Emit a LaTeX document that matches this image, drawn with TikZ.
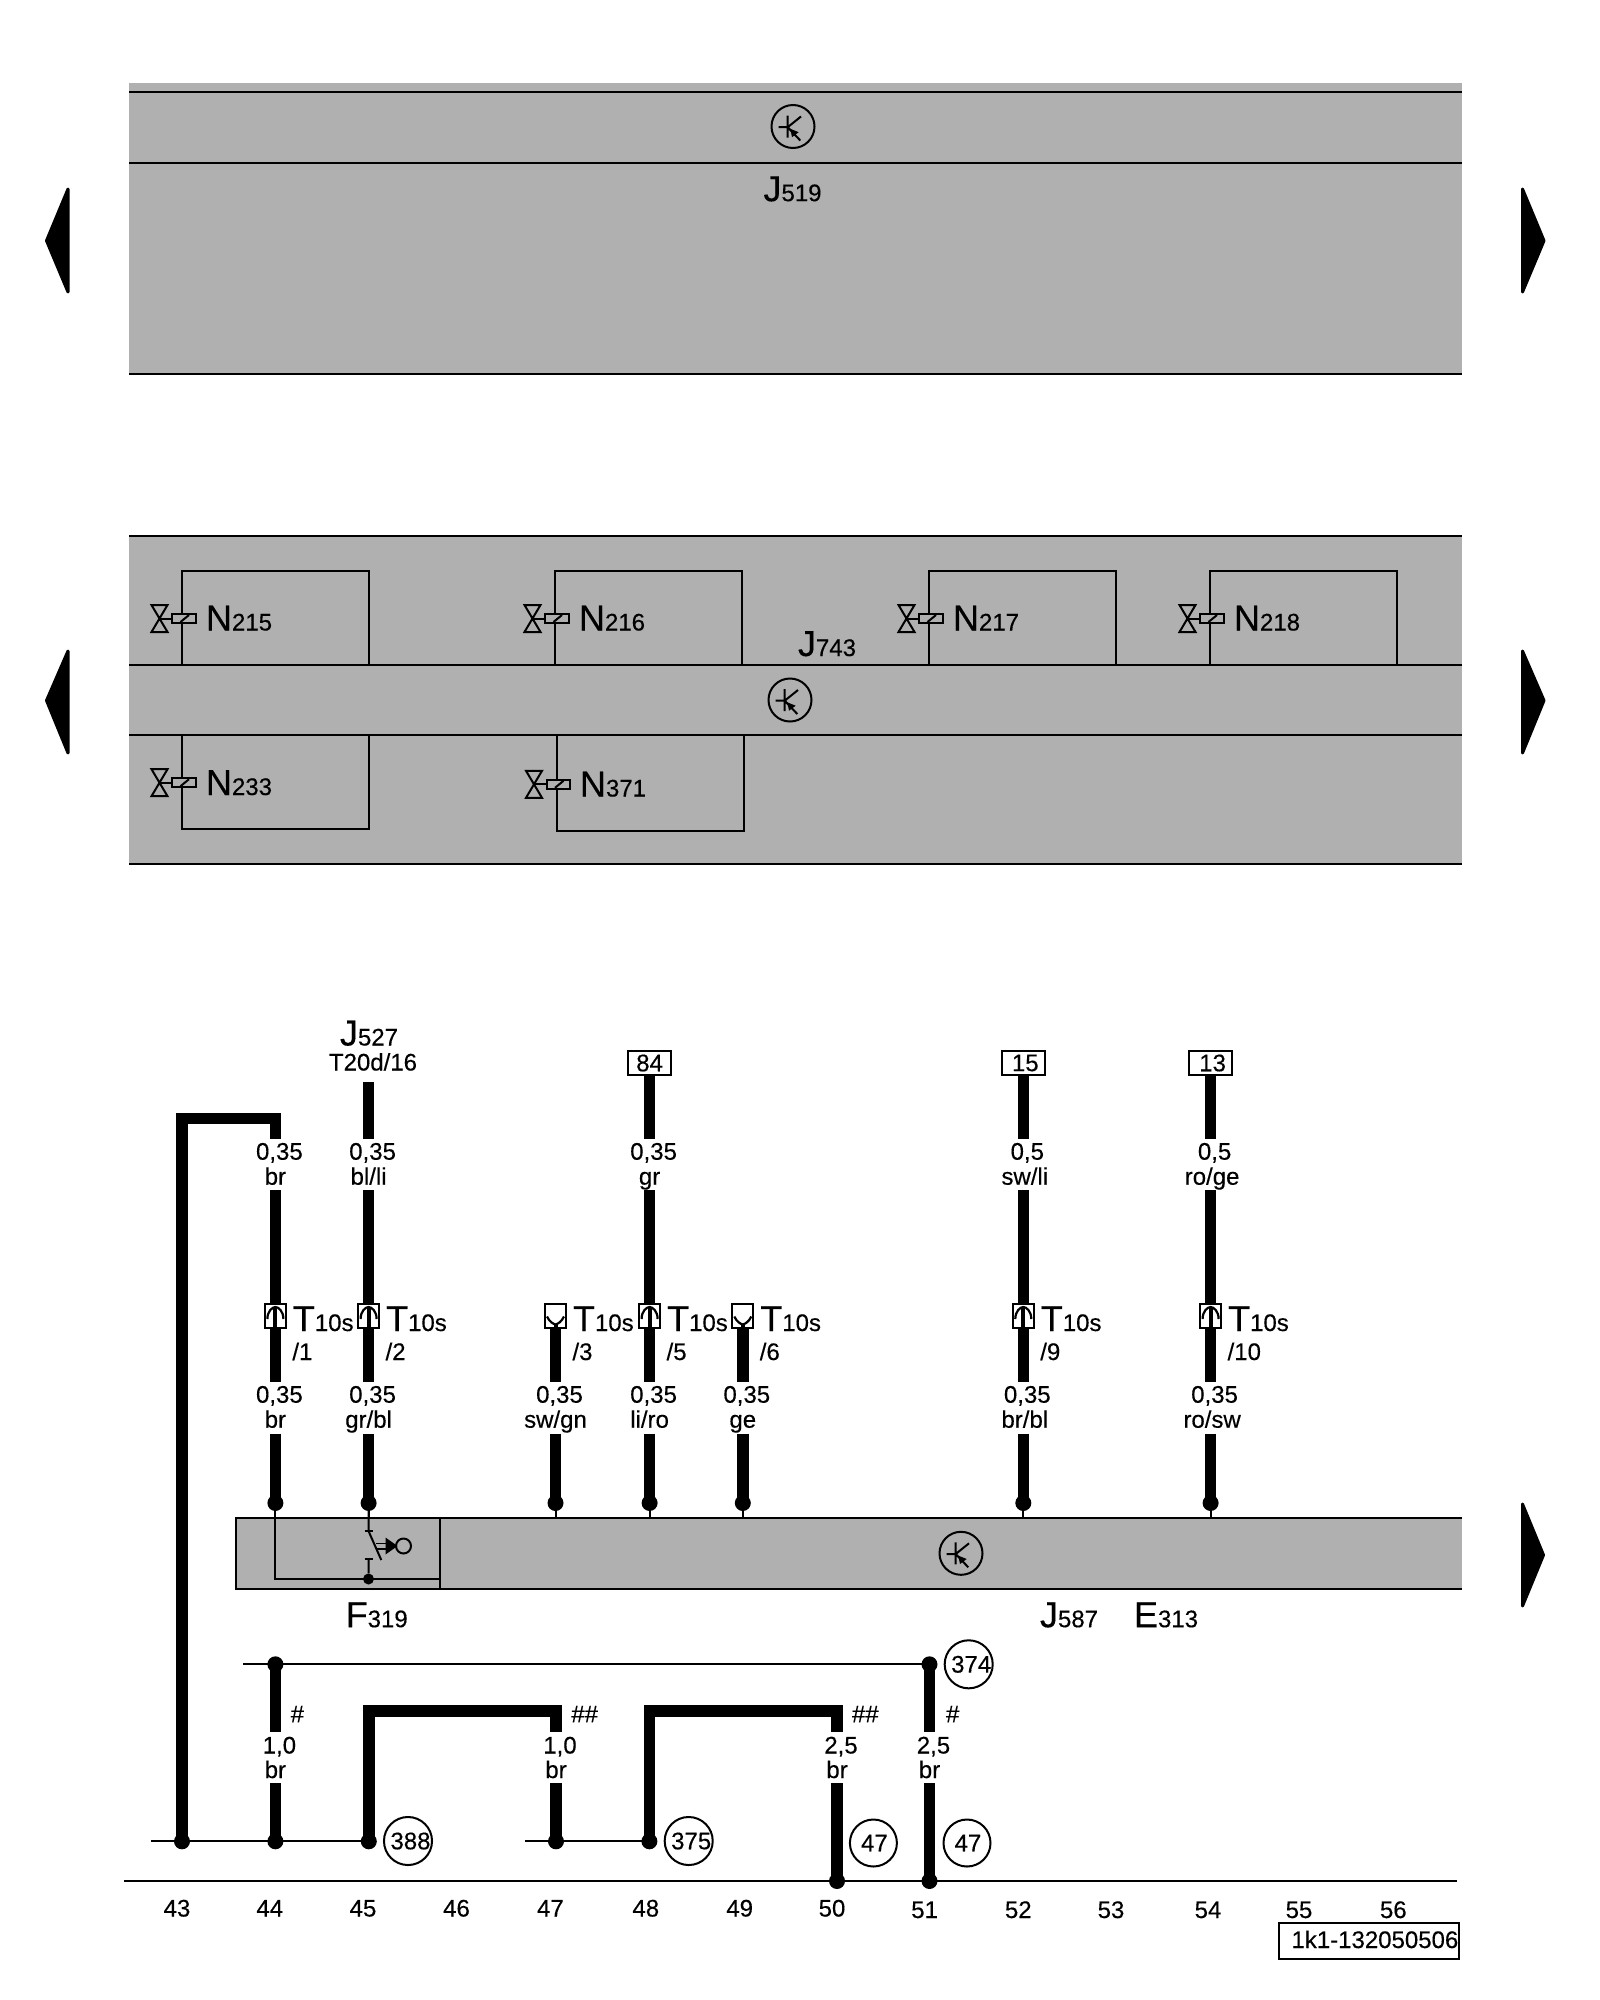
\documentclass[tikz,border=0pt]{standalone}
\usepackage{fontspec}
\setmainfont{Liberation Sans}[FakeBold=0.3]
\definecolor{panel}{RGB}{176,176,176}
\newcommand\Bg[2]{{\fontsize{36}{36}\selectfont #1}{\fontsize{24}{24}\selectfont #2}}
\tikzset{
  wire/.style={line width=11.5pt,line cap=butt,line join=miter,black},
  hair/.style={line width=2pt,black},
  lbl/.style={inner sep=0pt,outer sep=0pt,anchor=base,font=\fontsize{24}{24}\selectfont},
  lblw/.style={lbl,anchor=base west},
  dotn/.style={circle,fill=black,inner sep=0pt,minimum size=16pt,outer sep=0pt},
  pinbox/.style={rectangle,draw=black,line width=2pt,fill=white,minimum width=21pt,minimum height=24pt,inner sep=0pt,outer sep=0pt},
  refc/.style={circle,draw=black,line width=2pt,minimum size=47pt,inner sep=0pt,font=\fontsize{24}{24}\selectfont},
  termbox/.style={rectangle,draw=black,line width=2pt,fill=white,minimum width=43pt,minimum height=24pt,inner sep=0pt,outer sep=0pt,font=\fontsize{24}{24}\selectfont},
  pointer/.style={fill=black,draw=black,line width=3pt,line join=round},
  transistor/.pic={
    \draw[line width=2pt] (0,0) circle[radius=21.5];
    \draw[line width=2pt] (-5.3,-11)--(-5.3,11) (-14.3,0.7)--(-5.3,0.7) (-5.3,0.7)--(8,-10) (-5.3,0.7)--(7.3,14);
    \fill (-2.7,2.3)--(-1,10.7)--(5.7,5.7)--cycle;
  },
  valve/.pic={
    \draw[line width=2pt,line join=miter] (-8,-13.5)--(8,-13.5)--(-8,13.5)--(8,13.5)--cycle;
    \draw[line width=2pt] (0,0)--(12,0);
    \draw[line width=2pt,fill=panel] (12.5,-4.5) rectangle (36,4.5);
    \draw[line width=2pt] (21,3.5)--(29.5,-3.5);
  },
  pinmale/.pic={
    \draw[line width=2.2pt] (-8,3) .. controls (-8,-5) and (-3,-9) .. (0,-9) .. controls (3,-9) and (8,-5) .. (8,3);
    \draw[line width=4pt] (0,-8)--(0,11);
  },
  pinfemale/.pic={
    \draw[line width=2.2pt] (-8.5,0.5) .. controls (-6,6) and (-2,8) .. (0,8.5) .. controls (2,8) and (6,6) .. (8.5,0.5);
    \draw[line width=4pt] (0,8)--(0,12);
  },
}
\begin{document}
\begin{tikzpicture}[x=1pt,y=-1pt]
\useasboundingbox (0,0) rectangle (1600,2000);
\fill[white] (0,0) rectangle (1600,2000);

% --- top panel J519
\fill[panel] (129,83) rectangle (1462.3,374);
\coordinate (a1) at (129,92.3); \coordinate (a2) at (1462.3,92.3);
\coordinate (b1) at (129,163.3); \coordinate (b2) at (1462.3,163.3);
\coordinate (c1) at (129,374); \coordinate (c2) at (1462.3,374);
\draw[hair] (a1)--(a2) (b1)--(b2) (c1)--(c2);
\pic at (793,126.5) {transistor};
\node[lblw] (j519) at (763.5,201.2) {\Bg{J}{519}};

% --- middle panel J743
\fill[panel] (129,536) rectangle (1462.3,864.3);
\coordinate (d1) at (129,536); \coordinate (d2) at (1462.3,536);
\coordinate (e1) at (129,665.3); \coordinate (e2) at (1462.3,665.3);
\coordinate (f1) at (129,735.3); \coordinate (f2) at (1462.3,735.3);
\coordinate (g1) at (129,864.3); \coordinate (g2) at (1462.3,864.3);
\draw[hair] (d1)--(d2) (e1)--(e2) (f1)--(f2) (g1)--(g2);
\pic at (790,700) {transistor};
\node[lblw] (j743) at (798,656) {\Bg{J}{743}};

\foreach \x/\n in {182/215,555/216,929/217,1210/218}{
  \draw[hair,line join=miter] (\x,665.3)--(\x,571)--(\x+187,571)--(\x+187,665.3);
  \pic at (\x-22.5,618.5) {valve};
  \node[lblw] (n\n) at (\x+24,630.5) {\Bg{N}{\n}};
}
\draw[hair,line join=miter] (182,735.3)--(182,829.3)--(369,829.3)--(369,735.3);
\pic at (159.5,782.7) {valve};
\node[lblw] (n233) at (206,795) {\Bg{N}{233}};
\draw[hair,line join=miter] (556.6,735.3)--(556.6,831.3)--(743.6,831.3)--(743.6,735.3);
\pic at (534,784.3) {valve};
\node[lblw] (n371) at (580,796.5) {\Bg{N}{371}};

% --- side pointers
\foreach \ya/\yb/\yc in {189/240.7/292, 651/700.5/753}{
  \draw[pointer] (68,\ya)--(46.5,\yb)--(68,\yc)--cycle;
  \draw[pointer] (1522.5,\ya)--(1544,\yb)--(1522.5,\yc)--cycle;
}
\draw[pointer] (1522.5,1504)--(1543.5,1555)--(1522.5,1606)--cycle;

% --- lower panel
\fill[panel] (236,1518.3) rectangle (1462.3,1589.3);
\coordinate (h1) at (1462.3,1518.3); \coordinate (h2) at (236,1518.3);
\coordinate (h3) at (236,1589.3); \coordinate (h4) at (1462.3,1589.3);
\draw[hair,line join=miter] (h1)--(h2)--(h3)--(h4);
\coordinate (h5) at (440.3,1518.3); \coordinate (h6) at (440.3,1589.3);
\draw[hair] (h5)--(h6);
\pic at (961,1553.3) {transistor};

% --- pins with their T labels
\foreach \x/\s/\t in {275.4/1/pinmale,368.6/2/pinmale,555.5/3/pinfemale,649.6/5/pinmale,742.8/6/pinfemale,1023.3/9/pinmale,1210.6/10/pinmale}{
  \node[pinbox] (p\s) at (\x,1316) {};
  \pic at (\x,1316) {\t};
  \node[lblw] (t\s) at (\x+17.5,1331) {\Bg{T}{10s}};
  \node[lblw] (s\s) at (\x+17,1360) {/\s};
  \node[dotn] (q\s) at (\x,1503) {};
  \coordinate (m\s) at (\x,1381.7);
  \coordinate (k\s) at (\x,1433.5);
  \coordinate (r\s) at (\x,1518.3);
  \draw[wire] (p\s.south)--(m\s);
  \draw[wire] (k\s)--(q\s.center);
  \draw[hair] (q\s)--(r\s);
}
% --- lower gauge and colour labels
\foreach \x/\s/\c/\d in {275.4/1/{br}/0,368.6/2/{gr/bl}/0,555.5/3/{sw/gn}/0,649.6/5/{li/ro}/0,742.8/6/{ge}/0,1023.3/9/{br/bl}/1.5,1210.6/10/{ro/sw}/1.5}{
  \node[lbl] (lg\s) at (\x+4,1402.7) {0,35};
  \node[lbl] (lc\s) at (\x+\d,1427.7) {\c};
}
% --- upper labels and wires
\foreach \x/\s/\g/\c/\d in {275.4/1/{0,35}/{br}/0,368.6/2/{0,35}/{bl/li}/0,649.6/5/{0,35}/{gr}/0,1023.3/9/{0,5}/{sw/li}/1.5,1210.6/10/{0,5}/{ro/ge}/1.5}{
  \node[lbl] (ug\s) at (\x+4,1159.7) {\g};
  \node[lbl] (uc\s) at (\x+\d,1184.7) {\c};
  \coordinate (v\s) at (\x,1190);
  \coordinate (u\s) at (\x,1139);
  \draw[wire] (v\s)--(p\s.north);
}
\node[termbox] (t84) at (649.6,1063) {84};
\node[termbox] (t15) at (1023.3,1063) {\hspace*{4pt}15};
\node[termbox] (t13) at (1210.6,1063) {\hspace*{4pt}13};
\draw[wire] (t84.south)--(u5);
\draw[wire] (t15.south)--(u9);
\draw[wire] (t13.south)--(u10);
\coordinate (top2) at (368.6,1081.7);
\draw[wire] (top2)--(u2);
\node[lbl] (j527) at (369,1045.5) {\Bg{J}{527}};
\node[lbl] (t20) at (373,1070.5) {T20d/16};

% --- switch F319
\coordinate (turn) at (275.4,1579);
\coordinate (wall) at (440.3,1579);
\node[circle,fill=black,inner sep=0pt,minimum size=11pt] (jn) at (368.5,1579) {};
\coordinate (c3) at (368.5,1531);
\coordinate (c4) at (368.5,1559.3);
\coordinate (arm) at (381.3,1560);
\draw[hair,line join=miter] (q1)--(turn)--(wall);
\draw[hair] (q2)--(c3) (c3)--(arm) (c4)--(jn);
\draw[hair] (364.5,1531)--(372.5,1531) (364.5,1559.3)--(372.5,1559.3);
\draw[line width=1.8pt] (376,1543.5)--(388,1543.5) (376,1548.7)--(388,1548.7);
\fill (385.5,1537.5)--(397.5,1546)--(385.5,1554.5)--cycle;
\node[circle,draw=black,line width=2pt,minimum size=15pt,inner sep=0pt] (knob) at (403.5,1546) {};
\node[lblw] (f319) at (345.7,1627.2) {\Bg{F}{319}};
\node[lblw] (j587) at (1040,1627.2) {\Bg{J}{587}};
\node[lblw] (e313) at (1134,1627.2) {\Bg{E}{313}};

% --- ground and bus lines
\coordinate (bl) at (124,1881); \coordinate (br) at (1457,1881);
\draw[hair] (bl)--(br);
\coordinate (ta) at (243,1664.3);
\node[dotn] (d44u) at (275.4,1664.3) {};
\node[dotn] (d51u) at (929.5,1664.3) {};
\draw[hair] (ta)--(d51u.center);
\coordinate (la) at (151.4,1841.3);
\node[dotn] (d43) at (182,1841.3) {};
\node[dotn] (d44) at (275.4,1841.3) {};
\node[dotn] (d45) at (368.8,1841.3) {};
\draw[hair] (la)--(d45.center);
\coordinate (lb) at (525.4,1841.3);
\node[dotn] (d47) at (556,1841.3) {};
\node[dotn] (d48) at (649.4,1841.3) {};
\draw[hair] (lb)--(d48.center);
\node[dotn] (d50) at (837,1881) {};
\node[dotn] (d51) at (929.5,1881) {};

% --- L-shaped bridge to wire 1
\coordinate (l1) at (182,1118.5); \coordinate (l2) at (275.4,1118.5);
\draw[wire] (d43.center)--(l1)--(l2)--(u1);

% --- bridges
\coordinate (b1a) at (368.8,1711); \coordinate (b1b) at (556,1711);
\coordinate (b1c) at (556,1732); \coordinate (b1d) at (556,1783);
\draw[wire] (d45.center)--(b1a)--(b1b)--(b1c);
\draw[wire] (b1d)--(d47.center);
\coordinate (b2a) at (649.4,1711); \coordinate (b2b) at (837,1711);
\coordinate (b2c) at (837,1732); \coordinate (b2d) at (837,1783);
\draw[wire] (d48.center)--(b2a)--(b2b)--(b2c);
\draw[wire] (b2d)--(d50.center);
\coordinate (w44a) at (275.4,1732); \coordinate (w44b) at (275.4,1783);
\draw[wire] (d44u.center)--(w44a) (w44b)--(d44.center);
\coordinate (w51a) at (929.5,1732); \coordinate (w51b) at (929.5,1783);
\draw[wire] (d51u.center)--(w51a) (w51b)--(d51.center);

\foreach \x/\g/\n in {275.4/{1,0}/a,556/{1,0}/b,837/{2,5}/c,929.5/{2,5}/d}{
  \node[lbl] (gg\n) at (\x+4,1753.5) {\g};
  \node[lbl] (gc\n) at (\x,1778) {br};
}
\node[lblw] (h44) at (290.7,1722.2) {\#};
\node[lblw] (h47) at (571.3,1722.2) {\#\#};
\node[lblw] (h50) at (852,1722.2) {\#\#};
\node[lblw] (h51) at (946,1722.2) {\#};

\node[refc] (r388) at (408,1841) {\hspace*{5pt}388};
\node[refc] (r375) at (688.7,1841) {\hspace*{5pt}375};
\node[refc] (r47a) at (873.4,1843) {\hspace*{2pt}47};
\node[refc] (r47b) at (967,1843) {\hspace*{2pt}47};
\node[refc] (r374) at (968.7,1664.3) {\hspace*{5pt}374};

% --- column numbers
\foreach \x/\n in {177/43,269.8/44,363/45,456.5/46,550.4/47,645.8/48,739.7/49,832/50}{
  \node[lbl] (col\n) at (\x,1916.5) {\n};
}
\foreach \x/\n in {924.6/51,1018.3/52,1111/53,1208/54,1299/55,1393.3/56}{
  \node[lbl] (col\n) at (\x,1918) {\n};
}
\node[rectangle,draw=black,line width=2pt,minimum width=180pt,minimum height=36.5pt,inner sep=0pt] (refbox) at (1369,1940.8) {};
\node[lblw] (refid) at (1291.5,1948) {1k1-132050506};
\end{tikzpicture}
\end{document}
